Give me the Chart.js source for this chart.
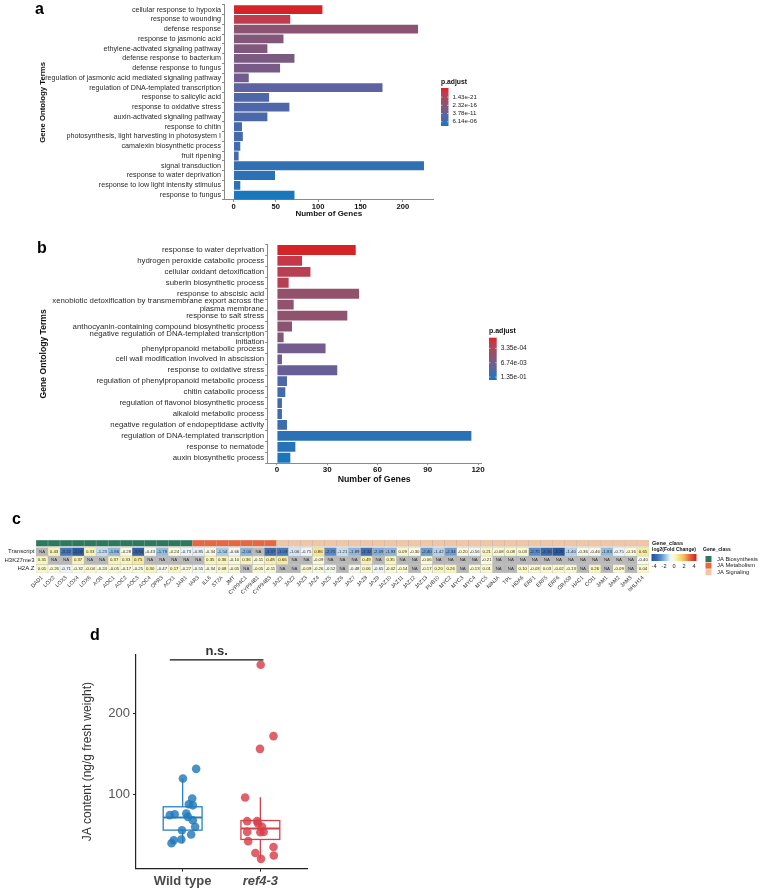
<!DOCTYPE html>
<html><head><meta charset="utf-8">
<script src="https://cdn.jsdelivr.net/npm/chart.js@4.4.1/dist/chart.umd.min.js"></script>
<style>
html,body{margin:0;padding:0;background:#fff;width:760px;height:893px;overflow:hidden;font-family:"Liberation Sans",Arial,sans-serif;}
.pane{position:absolute;left:0;width:760px;}
.pane canvas{display:block;}
.letter{position:absolute;font-weight:bold;font-size:16px;line-height:16px;color:#000;}
</style></head><body>
<div class="pane" style="top:0px;height:222px"><canvas id="ca" width="760" height="222"></canvas></div>
<div class="pane" style="top:230px;height:262px"><canvas id="cb" width="760" height="262"></canvas></div>
<div class="pane" style="top:528px;height:80px"><canvas id="cc" width="760" height="80"></canvas></div>
<div class="pane" style="top:620px;height:273px"><canvas id="cd" width="760" height="273"></canvas></div>
<div class="letter" style="left:35px;top:1px">a</div>
<div class="letter" style="left:37px;top:240px">b</div>
<div class="letter" style="left:12px;top:511px">c</div>
<div class="letter" style="left:90px;top:627px">d</div>
<script>
// ---------------- DATA ----------------
const termsA = ['cellular response to hypoxia','response to wounding','defense response','response to jasmonic acid','ethylene-activated signaling pathway','defense response to bacterium','defense response to fungus','regulation of jasmonic acid mediated signaling pathway','regulation of DNA-templated transcription','response to salicylic acid','response to oxidative stress','auxin-activated signaling pathway','response to chitin','photosynthesis, light harvesting in photosystem I','camalexin biosynthetic process','fruit ripening','signal transduction','response to water deprivation','response to low light intensity stimulus','response to fungus'];
const genesA = [105, 67, 218, 59, 40, 72, 55, 18, 176, 42, 66, 40, 10, 11, 8, 6, 225, 49, 8, 72];
const pAdjustA = [2.5e-27, 1.0e-23, 1.6e-16, 2.5e-15, 8.0e-15, 5.0e-14, 1.3e-13, 8.0e-13, 2.0e-10, 1.6e-8, 1.6e-8, 5.0e-8, 1.6e-7, 1.6e-7, 2.5e-7, 4.0e-7, 1.3e-5, 4.0e-5, 2.0e-4, 3.2e-3];
const xTicksA = [0, 50, 100, 150, 200];
const legendBreaksA = [1.43e-21, 2.32e-16, 3.78e-11, 6.14e-06];

const termsB = ['response to water deprivation','hydrogen peroxide catabolic process','cellular oxidant detoxification','suberin biosynthetic process','response to abscisic acid',['xenobiotic detoxification by transmembrane export across the','plasma membrane'],'response to salt stress','anthocyanin-containing compound biosynthetic process',['negative regulation of DNA-templated transcription','initiation'],'phenylpropanoid metabolic process','cell wall modification involved in abscission','response to oxidative stress','regulation of phenylpropanoid metabolic process','chitin catabolic process','regulation of flavonol biosynthetic process','alkaloid metabolic process','negative regulation of endopeptidase activity','regulation of DNA-templated transcription','response to nematode','auxin biosynthetic process'];
const genesB = [47, 15, 20, 7, 49, 10, 42, 9, 4, 29, 3, 36, 6, 5, 3, 3, 6, 116, 11, 8];
const pAdjustB = [3.6e-5, 1.0e-4, 1.8e-4, 2.1e-4, 1.25e-3, 1.5e-3, 1.5e-3, 1.8e-3, 3.0e-3, 7.2e-3, 8.7e-3, 1.15e-2, 4.3e-2, 5.1e-2, 5.6e-2, 6.0e-2, 6.6e-2, 1.35e-1, 1.6e-1, 2.5e-1];
const xTicksB = [0, 30, 60, 90, 120];
const legendBreaksB = [3.35e-04, 6.74e-03, 1.35e-01];

const heatGenes = ['DAD1','LOX2','LOX3','LOX4','LOX6','AOS','AOC1','AOC2','AOC3','AOC4','OPR3','ACX1','JAR1','IAR3','ILL6','ST2A','JMT','CYP94C1','CYP94B1','CYP94B3','JAZ1','JAZ2','JAZ3','JAZ4','JAZ5','JAZ6','JAZ7','JAZ8','JAZ9','JAZ10','JAZ11','JAZ12','JAZ13','PUB10','MYC2','MYC3','MYC4','MYC5','NINJA','TPL','HDA6','ERF1','ERF5','ERF6','ORA59','HAC1','COI1','JAM1','JAM2','JAM3','bHLH14'];
const geneClass = ['JA Biosynthesis','JA Biosynthesis','JA Biosynthesis','JA Biosynthesis','JA Biosynthesis','JA Biosynthesis','JA Biosynthesis','JA Biosynthesis','JA Biosynthesis','JA Biosynthesis','JA Biosynthesis','JA Biosynthesis','JA Biosynthesis','JA Metabolism','JA Metabolism','JA Metabolism','JA Metabolism','JA Metabolism','JA Metabolism','JA Metabolism','JA Signaling','JA Signaling','JA Signaling','JA Signaling','JA Signaling','JA Signaling','JA Signaling','JA Signaling','JA Signaling','JA Signaling','JA Signaling','JA Signaling','JA Signaling','JA Signaling','JA Signaling','JA Signaling','JA Signaling','JA Signaling','JA Signaling','JA Signaling','JA Signaling','JA Signaling','JA Signaling','JA Signaling','JA Signaling','JA Signaling','JA Signaling','JA Signaling','JA Signaling','JA Signaling','JA Signaling'];
const classNames = ['JA Biosynthesis','JA Metabolism','JA Signaling'];
const transcriptFC = [null,0.43,-3.22,-4.08,0.33,-1.23,-1.86,-0.28,-3.84,-0.43,-1.79,-0.24,-0.73,-0.85,-0.34,-1.54,-0.66,-2.00,null,-3.37,-3.09,-1.06,-0.75,0.86,-2.75,-1.21,-1.89,-3.32,-2.09,-1.93,0.09,-0.30,-2.40,-1.42,-2.34,-0.20,-0.56,0.21,-0.08,0.08,0.03,-2.75,-3.56,-4.25,-1.40,-0.36,-0.46,-1.83,-0.75,-0.16,0.65];
const h3k27me3FC = [0.31,null,null,0.37,null,null,0.37,0.33,0.75,null,null,null,null,null,0.35,0.36,-0.10,0.36,-0.11,0.48,0.66,null,null,-0.09,null,null,null,0.49,null,0.35,null,null,-0.06,null,null,null,null,-0.21,null,null,null,null,null,null,null,null,null,null,null,null,-0.40];
const h2azFC = [0.01,-0.26,-0.71,-0.32,-0.04,-0.24,-0.05,-0.17,-0.25,0.30,-0.47,0.17,-0.27,-0.55,-0.34,0.08,-0.05,null,-0.05,-0.11,null,null,-0.09,-0.26,-0.52,null,-0.48,0.06,-0.65,-0.02,-0.14,null,-0.17,0.20,0.26,null,-0.13,0.01,null,null,0.10,-0.03,0.03,-0.02,-0.13,null,0.26,null,-0.09,null,0.04];
const heatRowNames = ['H2A.Z','H3K27me3','Transcript'];
const fcLegendTicks = [-4, -2, 0, 2, 4];

const groupsD = ['Wild type','ref4-3'];
const wtX = [1.174,1.004,1.123,1.080,1.131,0.835,0.898,1.047,1.068,1.131,1.161,0.991,1.110,0.983,0.886,0.857];
const wtY = [131.9,120.1,95.4,88.4,87.0,74.9,76.1,77.0,72.8,68.7,60.5,56.4,51.1,45.0,44.1,40.4];
const refX = [2.004,2.169,1.995,1.804,1.830,1.957,1.970,2.021,1.830,2.042,1.843,2.169,1.936,2.173,2.008,2.000];
const refY = [260.0,172.2,156.5,96.7,67.5,67.5,64.7,60.5,54.3,54.3,42.9,35.8,28.4,25.2,21.1,54.0];
const boxQ1 = [56.5, 45.0];
const boxMedian = [72.0, 58.5];
const boxQ3 = [85.2, 68.3];
const whiskerLow = [40.4, 21.1];
const whiskerHigh = [120.1, 97.0];
const yTicksD = [100, 200];
const sigSpan = [0.835, 2.04];
const sigLevel = 266;
const sigLabel = 'n.s.';

// ---------------- STYLE HELPERS ----------------
const FF = '"Liberation Sans", Arial, sans-serif';
Chart.defaults.font.family = FF;
Chart.defaults.animation = false;
const PAL_T = [0, 0.12, 0.3, 0.45, 0.55, 0.7, 0.8, 0.9, 1];
const PAL_C = [[214,35,40],[196,57,74],[163,74,96],[139,84,114],[123,90,130],[94,98,160],[74,104,170],[49,112,179],[27,119,187]];
const FC_V = [-4.5,-3.5,-2.5,-1.5,-0.8,-0.3,0.3,1,2,3,4.5];
const FC_C = [[33,82,160],[55,105,180],[95,150,210],[170,205,235],[235,243,250],[250,250,225],[248,245,185],[245,225,130],[245,185,95],[235,110,65],[200,30,35]];
const CLASS_COL = {'JA Biosynthesis':'#2c7a5c','JA Metabolism':'#e8673c','JA Signaling':'#f2c5a3'};
const NA_COL = '#b9b9b9';
function mix(a,b,f){return a.map((v,i)=>Math.round(v+(b[i]-v)*f));}
function ramp(xs, cs, v){
  if (v<=xs[0]) return cs[0];
  if (v>=xs[xs.length-1]) return cs[cs.length-1];
  for (let i=1;i<xs.length;i++) if (v<=xs[i]) return mix(cs[i-1],cs[i],(v-xs[i-1])/(xs[i]-xs[i-1]));
}
const rgb = c => `rgb(${c[0]},${c[1]},${c[2]})`;
function pColors(pv){
  const lo = Math.log10(Math.min(...pv)), hi = Math.log10(Math.max(...pv));
  return pv.map(p => rgb(ramp(PAL_T, PAL_C, (Math.log10(p)-lo)/(hi-lo))));
}
function fmtExp(b){ return b.toExponential(2).replace(/e([+-])(\d)$/, 'e$10$2'); }
function fixedTicks(list){ return s => { s.ticks = list.map(v => ({value:v})); }; }

function pLegend(id, pv, breaks, box){
  const lo = Math.log10(Math.min(...pv)), hi = Math.log10(Math.max(...pv));
  return { id, afterDraw(chart){
    const c = chart.ctx; c.save();
    c.textAlign='left'; c.textBaseline='middle';
    c.font = `bold ${box.titleSize}px ${FF}`; c.fillStyle='#111';
    c.fillText('p.adjust', box.x, box.titleY);
    const g = c.createLinearGradient(0, box.y0, 0, box.y1);
    for (let k=0;k<=40;k++){ const t=k/40; g.addColorStop(t, rgb(ramp(PAL_T,PAL_C,t))); }
    c.fillStyle = g; c.fillRect(box.x, box.y0, box.w, box.y1-box.y0);
    c.font = `${box.labSize}px ${FF}`;
    breaks.forEach(b => {
      const t = (Math.log10(b)-lo)/(hi-lo); const y = box.y0 + t*(box.y1-box.y0);
      c.strokeStyle='rgba(255,255,255,0.9)'; c.lineWidth=0.6; c.beginPath();
      c.moveTo(box.x,y); c.lineTo(box.x+1.5,y); c.moveTo(box.x+box.w-1.5,y); c.lineTo(box.x+box.w,y); c.stroke();
      c.fillStyle='#222'; c.fillText(fmtExp(b), box.x+box.w+box.gap, y);
    });
    c.restore();
  }};
}

function goBar(canvasId, terms, genes, pv, ticks, o, legendPlugin){
  return new Chart(document.getElementById(canvasId), {
    type:'bar',
    data:{ labels: terms, datasets:[{ data: genes, backgroundColor: pColors(pv), barPercentage:0.9, categoryPercentage:1.0, borderWidth:0 }]},
    options:{
      responsive:false, indexAxis:'y',
      layout:{ padding:{ left:o.padL, top:o.padT, right:o.padR, bottom:o.padB } },
      plugins:{ legend:{display:false}, tooltip:{enabled:false} },
      scales:{
        x:{ type:'linear', min:o.xmin, max:o.xmax, afterBuildTicks: fixedTicks(ticks), afterFit: s => { s.height = o.xH; },
            grid:{ drawOnChartArea:false, drawTicks:true, tickLength:2, color:'#8a8a8a' },
            border:{ display:true, color:'#8a8a8a', width:1 },
            ticks:{ padding:o.xTickPad, color:'#111', font:{ size:o.xTickSize, weight:'bold' } },
            title:{ display:true, text:'Number of Genes', color:'#111', padding:0, font:{ size:o.xTitleSize, weight:'bold', lineHeight:1.2 } } },
        y:{ type:'category', offset:true, afterFit: s => { s.width = o.yW; },
            grid:{ drawOnChartArea:false, drawTicks:true, tickLength:2, color:'#8a8a8a' },
            border:{ display:true, color:'#8a8a8a', width:1 },
            ticks:{ padding:1, autoSkip:false, color:'#2a2a2a', font:{ size:o.yTickSize, lineHeight:1.03 } },
            title:{ display:true, text:'Gene Ontology Terms', color:'#111', padding:0, font:{ size:o.yTitleSize, weight:'bold', lineHeight:1.2 } } }
      }
    },
    plugins:[legendPlugin]
  });
}

// ---------------- PANEL A ----------------
goBar('ca', termsA, genesA, pAdjustA, xTicksA,
  { padL:38.3, padT:4.8, padR:326.5, padB:3.2, xmin:-11.25, xmax:236.25, xH:18.9, yW:185.7,
    xTickPad:0.5, xTickSize:7.6, xTitleSize:8, yTickSize:7.2, yTitleSize:7.8 },
  pLegend('legA', pAdjustA, legendBreaksA, { x:441, titleY:82, y0:88, y1:126, w:7.5, gap:4, titleSize:6.8, labSize:6.2 }));

// ---------------- PANEL B ----------------
goBar('cb', termsB, genesB, pAdjustB, xTicksB,
  { padL:38.1, padT:14.5, padR:278.9, padB:7, xmin:-5.8, xmax:121.8, xH:21.8, yW:229.1,
    xTickPad:0, xTickSize:8, xTitleSize:8.75, yTickSize:7.8, yTitleSize:8.6 },
  pLegend('legB', pAdjustB, legendBreaksB, { x:489, titleY:100.7, y0:107.7, y1:150, w:7.7, gap:4, titleSize:7, labSize:6.6 }));

// ---------------- PANEL C (heatmap) ----------------
const fcColor = v => v === null ? NA_COL : rgb(ramp(FC_V, FC_C, v));
const heatRows = [transcriptFC, h3k27me3FC, h2azFC];
const heatSpans = [[2,3],[1,2],[0,1]];
const heatDatasets = [{
  data: heatGenes.map(() => [3.12, 3.88]),
  backgroundColor: geneClass.map(c => CLASS_COL[c])
}].concat(heatRows.map((row, r) => ({
  data: row.map(() => heatSpans[r]),
  backgroundColor: row.map(fcColor)
}))).map(d => Object.assign(d, { barPercentage:1, categoryPercentage:1, grouped:false, borderWidth:0.5, borderColor:'rgba(150,150,150,0.55)', borderSkipped:false }));

const heatPlugin = { id:'heatText', afterDatasetsDraw(chart){
  const c = chart.ctx; c.save();
  c.font = `4.3px ${FF}`; c.textAlign='center'; c.textBaseline='middle'; c.fillStyle='#2e2e2e';
  heatRows.forEach((row, r) => {
    chart.getDatasetMeta(r+1).data.forEach((el, i) => {
      const v = row[i];
      c.fillText(v === null ? 'NA' : v.toFixed(2), el.x, (el.y + el.base)/2);
    });
  });
  // colour legend
  const gx0 = 651.5, gx1 = 696.5, gy0 = 26, gy1 = 33;
  c.textAlign='left'; c.fillStyle='#111'; c.font = `bold 5px ${FF}`;
  c.fillText('log2(Fold Change)', 652, 21.5);
  const g = c.createLinearGradient(gx0, 0, gx1, 0);
  for (let k=0;k<=40;k++){ const v = -4.5 + 9*k/40; g.addColorStop(k/40, rgb(ramp(FC_V, FC_C, v))); }
  c.fillStyle = g; c.fillRect(gx0, gy0, gx1-gx0, gy1-gy0);
  c.font = `5.6px ${FF}`; c.fillStyle='#222'; c.textAlign='center';
  fcLegendTicks.forEach(t => c.fillText(String(t), gx0 + (t + 4.5)/9*(gx1-gx0), 38.5));
  // class legend
  c.textAlign='left'; c.font = `bold 5px ${FF}`; c.fillStyle='#111';
  c.fillText('Gene_class', 703, 21.5);
  c.font = `5.8px ${FF}`;
  classNames.forEach((n, k) => {
    const yy = 31 + k*6.6;
    c.fillStyle = CLASS_COL[n]; c.fillRect(705.5, yy-3, 6, 6);
    c.fillStyle = '#222'; c.fillText(n, 717, yy);
  });
  c.restore();
}};

new Chart(document.getElementById('cc'), {
  type:'bar',
  data:{ labels: heatGenes, datasets: heatDatasets },
  options:{
    responsive:false,
    layout:{ padding:{ left:0, top:12, right:0, bottom:0 } },
    plugins:{ legend:{display:false}, tooltip:{enabled:false} },
    scales:{
      x:{ type:'category', offset:true, afterFit: s => { s.height = 35; },
          grid:{ display:false, drawTicks:false }, border:{ display:false },
          ticks:{ autoSkip:false, minRotation:45, maxRotation:45, padding:1.5, color:'#333', font:{ size:5.4 } } },
      y:{ type:'linear', min:0, max:3.88, afterBuildTicks: fixedTicks([0.5,1.5,2.5]), afterFit: s => { s.width = 36; },
          grid:{ display:false, drawTicks:false }, border:{ display:false },
          ticks:{ padding:1.5, color:'#222', font:{ size:6 }, callback: v => heatRowNames[Math.floor(v)] } },
      y2:{ type:'linear', position:'right', min:0, max:3.88, afterBuildTicks: fixedTicks([3.5]), afterFit: s => { s.width = 111; },
          grid:{ display:false, drawTicks:false }, border:{ display:false },
          ticks:{ padding:3, color:'#111', font:{ size:5.6, weight:'bold' }, callback: () => 'Gene_class' } }
    }
  },
  plugins:[heatPlugin]
});

// ---------------- PANEL D ----------------
const WT_COL = 'rgba(33,121,186,0.82)', REF_COL = 'rgba(216,62,72,0.82)';
const WT_LINE = '#2a80c0', REF_LINE = '#d6404a';
const boxPlugin = { id:'boxes', beforeDatasetsDraw(chart){
  const { ctx, scales:{ x, y } } = chart; ctx.save();
  [WT_LINE, REF_LINE].forEach((col, i) => {
    const pos = i + 1;
    const xl = x.getPixelForValue(pos - 0.25), xr = x.getPixelForValue(pos + 0.25), xc = x.getPixelForValue(pos);
    ctx.strokeStyle = col; ctx.lineWidth = 1.3;
    ctx.beginPath();
    ctx.moveTo(xc, y.getPixelForValue(boxQ3[i])); ctx.lineTo(xc, y.getPixelForValue(whiskerHigh[i]));
    ctx.moveTo(xc, y.getPixelForValue(boxQ1[i])); ctx.lineTo(xc, y.getPixelForValue(whiskerLow[i]));
    ctx.stroke();
    const yt = y.getPixelForValue(boxQ3[i]), yb = y.getPixelForValue(boxQ1[i]);
    ctx.fillStyle = '#fff'; ctx.fillRect(xl, yt, xr-xl, yb-yt);
    ctx.strokeRect(xl, yt, xr-xl, yb-yt);
    ctx.lineWidth = 2.2; ctx.beginPath();
    const ym = y.getPixelForValue(boxMedian[i]);
    ctx.moveTo(xl, ym); ctx.lineTo(xr, ym); ctx.stroke();
  });
  ctx.restore();
}, afterDraw(chart){
  const { ctx, scales:{ x, y } } = chart; ctx.save();
  const ys = y.getPixelForValue(sigLevel);
  ctx.strokeStyle = '#111'; ctx.lineWidth = 1.1; ctx.beginPath();
  ctx.moveTo(x.getPixelForValue(sigSpan[0]), ys); ctx.lineTo(x.getPixelForValue(sigSpan[1]), ys); ctx.stroke();
  ctx.font = `bold 13px ${FF}`; ctx.fillStyle = '#333'; ctx.textAlign = 'center'; ctx.textBaseline = 'alphabetic';
  ctx.fillText(sigLabel, (x.getPixelForValue(sigSpan[0]) + x.getPixelForValue(sigSpan[1]))/2, ys - 4.5);
  ctx.restore();
}};

new Chart(document.getElementById('cd'), {
  type:'scatter',
  data:{ datasets:[
    { data: wtX.map((v,i) => ({x:v, y:wtY[i]})), backgroundColor: WT_COL, borderWidth:0, pointRadius:4.3 },
    { data: refX.map((v,i) => ({x:v, y:refY[i]})), backgroundColor: REF_COL, borderWidth:0, pointRadius:4.3 }
  ]},
  options:{
    responsive:false,
    layout:{ padding:{ left:80.8, top:35, right:453, bottom:0 } },
    plugins:{ legend:{display:false}, tooltip:{enabled:false} },
    scales:{
      x:{ type:'linear', min:0.4, max:2.6, afterBuildTicks: fixedTicks([1,2]), afterFit: s => { s.height = 24.7; },
          grid:{ drawOnChartArea:false, drawTicks:true, tickLength:3.3, color:'#222' },
          border:{ display:true, color:'#222', width:1.2 },
          ticks:{ padding:2.3, color:'#4a4a4a', callback: v => groupsD[Math.round(v)-1],
                  font: c => ({ size:13, weight:'bold', style: (c.index === 1 ? 'italic' : 'normal') }) } },
      y:{ type:'linear', min:9.5, max:272, afterBuildTicks: fixedTicks(yTicksD), afterFit: s => { s.width = 55.2; },
          grid:{ drawOnChartArea:false, drawTicks:true, tickLength:3, color:'#222' },
          border:{ display:true, color:'#222', width:1.2 },
          ticks:{ padding:3, color:'#555', font:{ size:13 } },
          title:{ display:true, text:'JA content (ng/g fresh weight)', color:'#333', padding:0, font:{ size:12, lineHeight:1.2 } } }
    }
  },
  plugins:[boxPlugin]
});
</script>
</body></html>
